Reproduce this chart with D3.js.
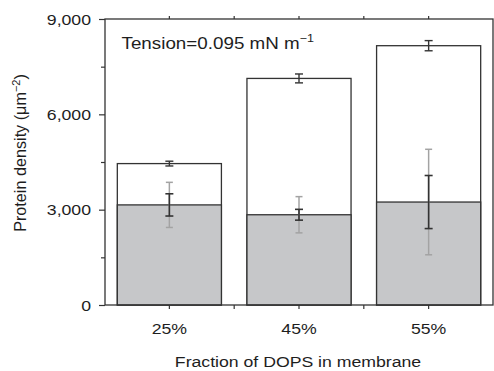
<!DOCTYPE html>
<html><head><meta charset="utf-8">
<script src="https://cdn.jsdelivr.net/npm/d3@7"></script>
<style>body{margin:0;background:#fff}svg{display:block}text{font-family:"Liberation Sans",Arial,sans-serif;fill:#1e1e1e}</style>
</head><body>
<svg id="c" width="494" height="371"></svg>
<script>
const categories = ["25%", "45%", "55%"];
const totalValues = [4450, 7130, 8160];
const totalErr = [75, 140, 160];
const boundValues = [3150, 2840, 3240];
const boundErrDark = [350, 170, 835];
const boundErrLight = [710, 570, 1660];
const yTicks = [0, 3000, 6000, 9000];
const yMinorTicks = [1500, 4500, 7500];
const annotation = "Tension=0.095 mN m";
const yLabel = "Protein density (μm";
const xLabel = "Fraction of DOPS in membrane";

const svg = d3.select("#c");
const L = 105, R = 493, T = 19, B = 305;
const SX = 1.14;
const x = d3.scaleBand().domain(categories).range([L, R]).paddingInner(0.197).paddingOuter(0.095);
const y = d3.scaleLinear().domain([0, 9000]).range([B, T]);
const fmt = d3.format(",");

svg.append("g").selectAll("rect").data(categories).join("rect")
  .attr("x", d => x(d)).attr("width", x.bandwidth())
  .attr("y", (d, i) => y(totalValues[i])).attr("height", (d, i) => B - y(totalValues[i]))
  .attr("fill", "#fff").attr("stroke", "#333").attr("stroke-width", 1.3);
svg.append("g").selectAll("rect").data(categories).join("rect")
  .attr("x", d => x(d)).attr("width", x.bandwidth())
  .attr("y", (d, i) => y(boundValues[i])).attr("height", (d, i) => B - y(boundValues[i]))
  .attr("fill", "#c6c7c9").attr("stroke", "#333").attr("stroke-width", 1.3);

function errBars(vals, errs, color, cap, sw) {
  const g = svg.append("g").attr("stroke", color).attr("stroke-width", sw);
  categories.forEach((c, i) => {
    const cx = x(c) + x.bandwidth() / 2;
    const y0 = y(vals[i] - errs[i]), y1 = y(vals[i] + errs[i]);
    g.append("line").attr("x1", cx).attr("x2", cx).attr("y1", y0).attr("y2", y1);
    g.append("line").attr("x1", cx - cap).attr("x2", cx + cap).attr("y1", y0).attr("y2", y0);
    g.append("line").attr("x1", cx - cap).attr("x2", cx + cap).attr("y1", y1).attr("y2", y1);
  });
}
errBars(boundValues, boundErrLight, "#a3a3a3", 3.5, 1.5);
errBars(boundValues, boundErrDark, "#333", 4, 1.6);
errBars(totalValues, totalErr, "#333", 4, 1.4);

svg.append("rect").attr("x", L).attr("y", T).attr("width", R - L).attr("height", B - T)
  .attr("fill", "none").attr("stroke", "#333").attr("stroke-width", 1.3);

const ya = d3.axisLeft(y).tickValues(yTicks).tickFormat(fmt).tickSize(6).tickPadding(8);
const yg = svg.append("g").attr("transform", `translate(${L},0)`).call(ya);
yg.select(".domain").remove();
yg.selectAll("line").attr("stroke", "#333").attr("stroke-width", 1.2);
yg.selectAll("text").attr("font-size", 15.5).attr("font-family", null).attr("fill", null)
  .attr("transform", `scale(${SX},1)`).attr("x", -14 / SX).attr("dy", "0.34em");
const yma = d3.axisLeft(y).tickValues(yMinorTicks).tickFormat("").tickSize(4);
const ymg = svg.append("g").attr("transform", `translate(${L},0)`).call(yma);
ymg.select(".domain").remove();
ymg.selectAll("line").attr("stroke", "#333").attr("stroke-width", 1.2);

const centers = categories.map(c => x(c) + x.bandwidth() / 2);
const xt = centers.concat(d3.pairs(centers).map(p => (p[0] + p[1]) / 2));
const tg = svg.append("g").attr("stroke", "#333").attr("stroke-width", 1.2);
xt.forEach(v => {
  tg.append("line").attr("x1", v).attr("x2", v).attr("y1", B).attr("y2", B + 4);
  tg.append("line").attr("x1", v).attr("x2", v).attr("y1", T).attr("y2", T - 3);
});
svg.append("g").selectAll("text").data(categories).join("text")
  .attr("transform", d => `translate(${x(d) + x.bandwidth() / 2},333.5) scale(${SX},1)`)
  .attr("text-anchor", "middle").attr("font-size", 15.5).text(d => d);

svg.append("text").attr("transform", `translate(298,366.5) scale(${SX},1)`)
  .attr("text-anchor", "middle").attr("font-size", 15.5).text(xLabel);

const yl = svg.append("text").attr("transform", "translate(26,153) rotate(-90)")
  .attr("text-anchor", "middle").attr("font-size", 16.2);
yl.append("tspan").text(yLabel);
yl.append("tspan").attr("dy", -6).attr("font-size", 11).text("−2");
yl.append("tspan").attr("dy", 6).text(")");

const an = svg.append("text").attr("transform", `translate(121.5,48.5) scale(${SX},1)`)
  .attr("font-size", 16.5);
an.append("tspan").text(annotation);
an.append("tspan").attr("dy", -6.5).attr("font-size", 11).text("−1");
</script>
</body></html>
